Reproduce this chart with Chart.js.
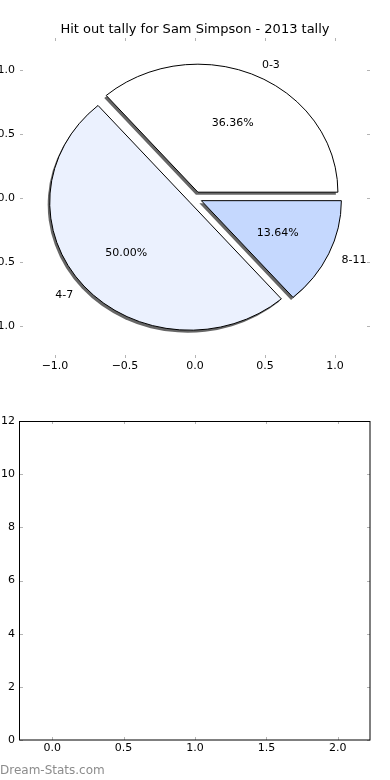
<!DOCTYPE html>
<html>
<head>
<meta charset="utf-8">
<script src="https://cdn.jsdelivr.net/npm/chart.js@4.4.1/dist/chart.umd.min.js"></script>
<style>
  body { margin: 0; background: #fff; }
  #wrap { position: relative; width: 390px; height: 780px; overflow: hidden; }
  #pie-chart { position: absolute; left: 0; top: 0; }
  #bar-chart { position: absolute; left: 0; top: 390px; }
  #watermark { position: absolute; left: 0; top: 762px; font: 12px "DejaVu Sans"; line-height: 16px; color: #8c8c8c; }
</style>
</head>
<body>
<div id="wrap">
  <canvas id="pie-chart" width="390" height="390"></canvas>
  <canvas id="bar-chart" width="390" height="390"></canvas>
  <div id="watermark">Dream-Stats.com</div>
</div>
<script>
const chartTitle = 'Hit out tally for Sam Simpson - 2013 tally';
const tallyLabels = ['0-3', '4-7', '8-11'];
const tallyCounts = [8, 11, 3];
const pieTicks = [-1, -0.5, 0, 0.5, 1];

// the second panel is empty in the picture
const barPositions = [0, 1, 2];
const barHeights = [0, 0, 0];
const barXTicks = [0, 0.5, 1, 1.5, 2];
const barYTicks = [0, 2, 4, 6, 8, 10, 12];

const pieColors = ['#ffffff', '#ebf1fe', '#c5d8fe'];
const explode = 0.05;

Chart.defaults.font.family = '"DejaVu Sans"';
Chart.defaults.font.size = 11;
Chart.defaults.color = '#000';

function fmtTick(v) {
    return v.toFixed(1).replace('-', '\u2212');
}

// matplotlib style pie, drawn in data units on the x/y scales
const piePlugin = {
    id: 'pieWedges',
    afterDatasetsDraw(chart) {
        const xs = chart.scales.x;
        const ys = chart.scales.y;
        const ctx = chart.ctx;
        const rx = xs.getPixelForValue(1) - xs.getPixelForValue(0);
        const ry = ys.getPixelForValue(0) - ys.getPixelForValue(1);
        const total = tallyCounts.reduce((a, b) => a + b, 0);

        let start = 0;
        const wedges = tallyCounts.map(v => {
            const t1 = start;
            const t2 = start + 2 * Math.PI * v / total;
            start = t2;
            const mid = (t1 + t2) / 2;
            return {t1, t2, mid, cx: explode * Math.cos(mid), cy: explode * Math.sin(mid), pct: 100 * v / total};
        });

        function wedgePath(w, dx, dy) {
            const x = xs.getPixelForValue(w.cx) + dx;
            const y = ys.getPixelForValue(w.cy) + dy;
            ctx.beginPath();
            ctx.moveTo(x, y);
            ctx.ellipse(x, y, rx, ry, 0, -w.t1, -w.t2, true);
            ctx.closePath();
        }

        ctx.save();
        // shadows go under every wedge
        ctx.fillStyle = 'rgba(0,0,0,0.6)';
        wedges.forEach(w => { wedgePath(w, -2, 2.5); ctx.fill(); });

        ctx.lineWidth = 1;
        ctx.strokeStyle = '#000';
        wedges.forEach((w, i) => {
            wedgePath(w, 0, 0);
            ctx.fillStyle = pieColors[i];
            ctx.fill();
            ctx.stroke();
        });

        ctx.font = '11px "DejaVu Sans"';
        ctx.fillStyle = '#000';
        ctx.textBaseline = 'middle';
        wedges.forEach((w, i) => {
            const lx = w.cx + 1.1 * Math.cos(w.mid);
            const ly = w.cy + 1.1 * Math.sin(w.mid);
            ctx.textAlign = lx > 0 ? 'left' : 'right';
            ctx.fillText(tallyLabels[i], xs.getPixelForValue(lx), ys.getPixelForValue(ly) + 1);

            const px = w.cx + 0.6 * Math.cos(w.mid);
            const py = w.cy + 0.6 * Math.sin(w.mid);
            ctx.textAlign = 'center';
            ctx.fillText(w.pct.toFixed(2) + '%', xs.getPixelForValue(px), ys.getPixelForValue(py) + 1);
        });
        ctx.restore();
    }
};

// small inward ticks on all four sides, plus the frame when asked
const tickMarks = {
    id: 'tickMarks',
    afterDraw(chart, args, opts) {
        const {left, right, top, bottom} = chart.chartArea;
        const ctx = chart.ctx;
        const xs = chart.scales.x;
        const ys = chart.scales.y;
        ctx.save();
        ctx.strokeStyle = '#b4b4b4';
        ctx.lineWidth = 1;
        ctx.beginPath();
        xs.ticks.forEach(t => {
            const x = Math.round(xs.getPixelForValue(t.value)) + 0.5;
            ctx.moveTo(x, top); ctx.lineTo(x, top + 3);
            ctx.moveTo(x, bottom); ctx.lineTo(x, bottom - 3);
        });
        ys.ticks.forEach(t => {
            const y = Math.round(ys.getPixelForValue(t.value)) + 0.5;
            ctx.moveTo(left, y); ctx.lineTo(left + 3, y);
            ctx.moveTo(right, y); ctx.lineTo(right - 3, y);
        });
        ctx.stroke();
        if (opts.frame) {
            ctx.strokeStyle = '#000';
            ctx.strokeRect(Math.round(left) - 0.5, Math.round(top) + 0.5, Math.round(right - left) + 0.5, Math.round(bottom - top) - 0.5);
        }
        ctx.restore();
    }
};

new Chart(document.getElementById('pie-chart'), {
    type: 'scatter',
    data: { datasets: [] },
    options: {
        responsive: false,
        animation: false,
        devicePixelRatio: 1,
        layout: { padding: { right: 20 } },
        plugins: {
            legend: { display: false },
            tooltip: { enabled: false },
            tickMarks: { frame: false },
            title: {
                display: true,
                text: chartTitle,
                fullSize: false,
                color: '#000',
                font: { size: 13, weight: 'normal' },
                padding: { top: 22.2, bottom: 0.2 }
            }
        },
        scales: {
            x: {
                type: 'linear', min: -1.25, max: 1.25,
                grid: { display: false, drawTicks: false },
                border: { display: false },
                afterBuildTicks: s => { s.ticks = pieTicks.map(v => ({value: v})); },
                afterFit: s => { s.height = 32; },
                ticks: { padding: 2, maxRotation: 0, callback: v => fmtTick(v) }
            },
            y: {
                type: 'linear', min: -1.25, max: 1.25,
                grid: { display: false, drawTicks: false },
                border: { display: false },
                afterBuildTicks: s => { s.ticks = pieTicks.map(v => ({value: v})); },
                afterFit: s => { s.width = 20; },
                ticks: { padding: 5, callback: v => fmtTick(v) }
            }
        }
    },
    plugins: [piePlugin, tickMarks]
});

new Chart(document.getElementById('bar-chart'), {
    type: 'bar',
    data: {
        datasets: [{
            data: barPositions.map((x, i) => ({x: x, y: barHeights[i]})),
            backgroundColor: '#c5d8fe',
            borderWidth: 0
        }]
    },
    options: {
        responsive: false,
        animation: false,
        devicePixelRatio: 1,
        layout: { padding: { top: 31, right: 20 } },
        plugins: {
            legend: { display: false },
            tooltip: { enabled: false },
            tickMarks: { frame: true }
        },
        scales: {
            x: {
                type: 'linear', min: -0.225, max: 2.225, offset: false,
                grid: { display: false, drawTicks: false, offset: false },
                border: { display: false },
                afterBuildTicks: s => { s.ticks = barXTicks.map(v => ({value: v})); },
                afterFit: s => { s.height = 40; },
                ticks: { padding: 2, maxRotation: 0, callback: v => fmtTick(v) }
            },
            y: {
                type: 'linear', min: 0, max: 12,
                grid: { display: false, drawTicks: false },
                border: { display: false },
                afterBuildTicks: s => { s.ticks = barYTicks.map(v => ({value: v})); },
                afterFit: s => { s.width = 20; },
                ticks: { padding: 5, callback: v => String(v) }
            }
        }
    },
    plugins: [tickMarks]
});
</script>
</body>
</html>
